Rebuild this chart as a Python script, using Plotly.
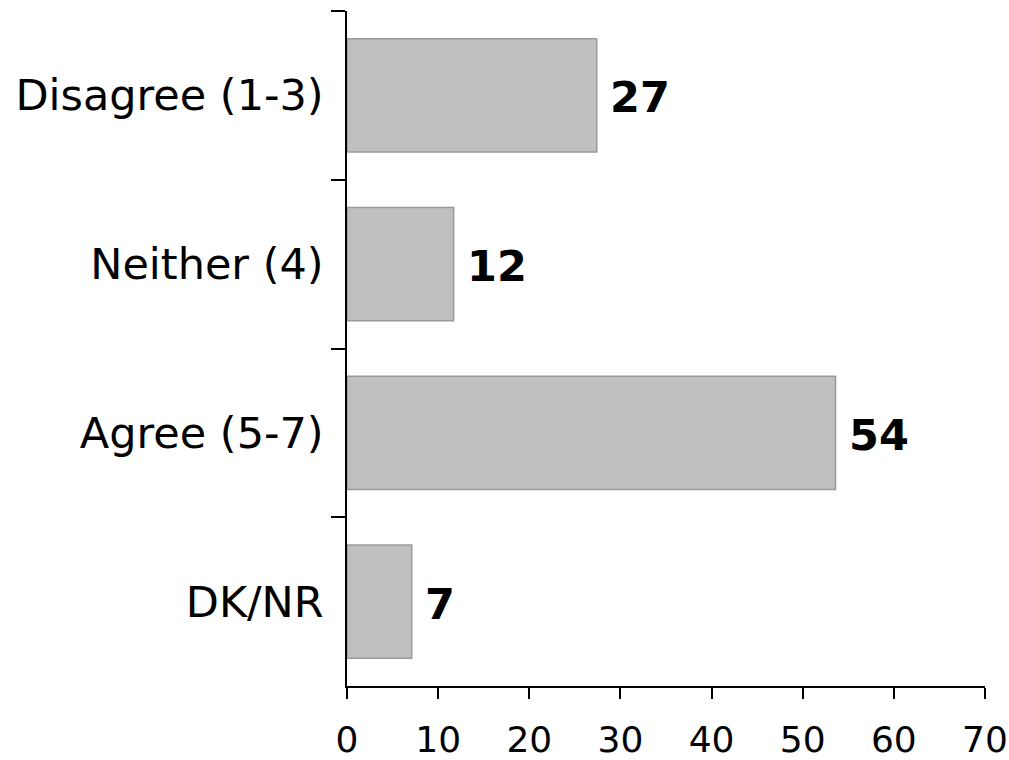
import plotly.graph_objects as go

categories = ["Disagree (1-3)", "Neither (4)", "Agree (5-7)", "DK/NR"]
values = [27.4, 11.7, 53.6, 7.1]
labels = ["27", "12", "54", "7"]
x_ticks = [0, 10, 20, 30, 40, 50, 60, 70]

FONT = "DejaVu Sans"

fig = go.Figure()
fig.add_trace(go.Bar(
    x=values, y=categories, orientation="h",
    marker=dict(color="#C0C0C0", line=dict(color="#999999", width=1.5)),
    hoverinfo="skip",
))
for c, v, t in zip(categories, values, labels):
    fig.add_annotation(x=v, y=c, text="<b>%s</b>" % t, showarrow=False,
                       xanchor="left", yanchor="middle", xshift=11, yshift=-2,
                       font=dict(family=FONT, size=43, color="black"))

fig.update_layout(
    width=1009, height=760,
    margin=dict(l=347, r=24, t=11, b=74),
    paper_bgcolor="white", plot_bgcolor="white",
    showlegend=False, bargap=0.33,
    font=dict(family=FONT, size=34, color="black"),
)
fig.update_xaxes(range=[0, 70], tickvals=x_ticks, ticks="outside", ticklen=11,
                 tickwidth=1.5, tickcolor="black", showline=True, linecolor="black",
                 linewidth=1.5, showgrid=False, zeroline=False, ticklabelstandoff=10,
                 automargin=False,
                 tickfont=dict(family=FONT, size=36, color="black"))
fig.update_yaxes(categoryorder="array", categoryarray=categories, autorange="reversed",
                 ticks="outside", ticklen=14, tickwidth=1.5, tickcolor="black",
                 tickson="boundaries", showline=True, linecolor="black", linewidth=1.5,
                 showgrid=False, zeroline=False, ticklabelstandoff=13,
                 automargin=False,
                 tickfont=dict(family=FONT, size=43, color="black"))

fig.write_html("out.html", config={"displayModeBar": False},
               post_script="document.body.style.margin='0';")
